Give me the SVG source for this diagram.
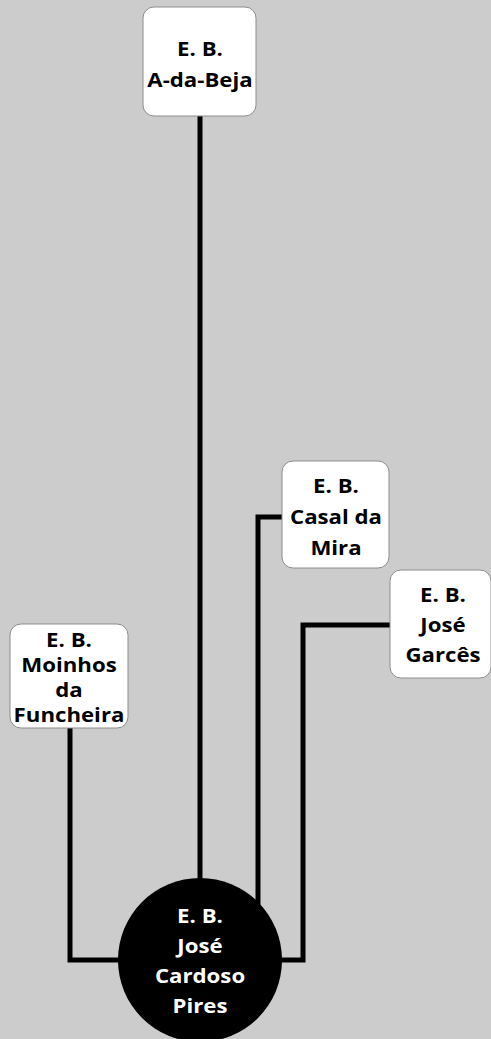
<svg xmlns="http://www.w3.org/2000/svg" width="491" height="1039" viewBox="0 0 491 1039">
<style>
.box{fill:#fff;stroke:#8c8c8c;stroke-width:1}
.lbl{font-family:"Open Sans","Liberation Sans",sans-serif;font-weight:bold;font-size:19.5px;text-anchor:middle;fill:#000}
.wl{fill:#fff}
.conn{fill:none;stroke:#000;stroke-width:5;stroke-linejoin:miter}
</style>
<rect width="491" height="1039" fill="#cccccc"/>
<g id="connectors">
<path class="conn" d="M200,116 V900"/>
<path class="conn" d="M282,517 H258 V940"/>
<path class="conn" d="M390,625 H303 V960 H220"/>
<path class="conn" d="M70,728 V960 H180"/>
</g>
<g id="node-a-da-beja">
<rect class="box" x="143" y="7" width="113" height="109" rx="11"/>
<text class="lbl" transform="translate(200,0) scale(1.14,1)"><tspan x="0" y="56">E. B.</tspan><tspan x="0" y="87">A-da-Beja</tspan></text>
</g>
<g id="node-casal-da-mira">
<rect class="box" x="282" y="461" width="107" height="107" rx="11"/>
<text class="lbl" transform="translate(336,0) scale(1.14,1)"><tspan x="0" y="493">E. B.</tspan><tspan x="0" y="524">Casal da</tspan><tspan x="0" y="555">Mira</tspan></text>
</g>
<g id="node-jose-garces">
<rect class="box" x="390" y="570" width="101" height="108" rx="11"/>
<text class="lbl" transform="translate(443,0) scale(1.14,1)"><tspan x="0" y="602">E. B.</tspan><tspan x="0" y="632">José</tspan><tspan x="0" y="662">Garcês</tspan></text>
</g>
<g id="node-moinhos-da-funcheira">
<rect class="box" x="10" y="624" width="118" height="104" rx="11"/>
<text class="lbl" transform="translate(69,0) scale(1.14,1)"><tspan x="0" y="647">E. B.</tspan><tspan x="0" y="672">Moinhos</tspan><tspan x="0" y="697">da</tspan><tspan x="0" y="722">Funcheira</tspan></text>
</g>
<g id="node-jose-cardoso-pires">
<circle cx="200" cy="960" r="82" fill="#000"/>
<text class="lbl wl" transform="translate(200,0) scale(1.14,1)"><tspan x="0" y="923">E. B.</tspan><tspan x="0" y="953">José</tspan><tspan x="0" y="983">Cardoso</tspan><tspan x="0" y="1013">Pires</tspan></text>
</g>
</svg>
